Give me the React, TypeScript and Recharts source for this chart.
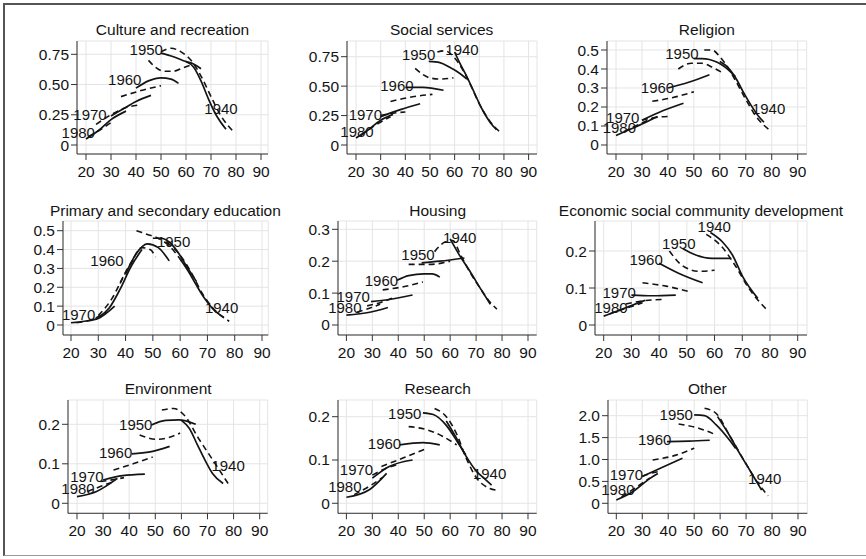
import React from 'react';
import { LineChart, Line, XAxis, YAxis, CartesianGrid, ReferenceDot } from 'recharts';

type Pt = [number, number];

const cohorts = ['1940', '1950', '1960', '1970', '1980'];
const xTicks = [20, 30, 40, 50, 60, 70, 80, 90];

// ---------- Culture and recreation ----------
const cultureTitle = 'Culture and recreation';
const cultureYTicks = ['0', '0.25', '0.50', '0.75'];
const cultureSolid: Pt[][] = [
  [[60, 0.69], [63, 0.645], [66, 0.53], [69, 0.38], [72, 0.25], [76, 0.13]],
  [[50, 0.76], [55, 0.73], [60, 0.69], [63, 0.67], [66, 0.63]],
  [[40, 0.47], [45, 0.53], [50, 0.555], [54, 0.545], [57, 0.51]],
  [[30, 0.24], [35, 0.3], [40, 0.36], [46, 0.41]],
  [[20, 0.05], [25, 0.12], [30, 0.21], [36, 0.28]],
];
const cultureDashed: Pt[][] = [
  [[50, 0.77], [54, 0.8], [58, 0.77], [62, 0.7], [66, 0.57], [70, 0.4], [74, 0.24], [79, 0.11]],
  [[45, 0.7], [48, 0.64], [51, 0.61], [55, 0.61], [59, 0.64], [63, 0.67]],
  [[34, 0.4], [42, 0.45], [50, 0.49]],
  [[24, 0.17], [30, 0.25], [36, 0.31], [41, 0.33]],
  [[21, 0.07], [26, 0.13], [31, 0.2]],
];
const cultureLabels: Pt[] = [[74, 0.3], [44.1, 0.79], [35.5, 0.54], [21.6, 0.25], [16.9, 0.1]];

// ---------- Social services ----------
const socialTitle = 'Social services';
const socialYTicks = ['0', '0.25', '0.50', '0.75'];
const socialSolid: Pt[][] = [
  [[60, 0.79], [62, 0.7], [64.5, 0.6], [67, 0.49], [71, 0.31], [74.5, 0.19], [77, 0.13]],
  [[49.5, 0.71], [54, 0.7], [58, 0.66], [62, 0.61], [65, 0.56]],
  [[40, 0.49], [47, 0.49], [55.5, 0.465]],
  [[30, 0.24], [38, 0.3], [46, 0.35]],
  [[20, 0.06], [25, 0.13], [30, 0.21], [35, 0.26]],
];
const socialDashed: Pt[][] = [
  [[53, 0.79], [56, 0.8], [60, 0.74], [63, 0.65], [66, 0.53], [70, 0.35], [74, 0.21], [79, 0.1]],
  [[44, 0.65], [47, 0.6], [50, 0.57], [54, 0.56], [59.5, 0.57]],
  [[34, 0.37], [43, 0.41], [51, 0.43]],
  [[30, 0.25], [35, 0.27], [40, 0.28]],
  [[22, 0.08], [28, 0.17], [34, 0.24]],
];
const socialLabels: Pt[] = [[63, 0.81], [45.4, 0.77], [36.6, 0.5], [23.8, 0.26], [20.4, 0.11]];

// ---------- Religion ----------
const religionTitle = 'Religion';
const religionYTicks = ['0', '0.1', '0.2', '0.3', '0.4', '0.5'];
const religionSolid: Pt[][] = [
  [[60, 0.44], [63, 0.41], [66, 0.355], [69, 0.28], [72, 0.21], [75, 0.15], [77, 0.12]],
  [[50, 0.455], [53, 0.455], [56, 0.45], [59, 0.435], [62, 0.41], [66, 0.36]],
  [[40, 0.3], [48, 0.33], [56, 0.37]],
  [[30, 0.13], [38, 0.18], [46, 0.22]],
  [[20, 0.05], [25, 0.08], [30, 0.11], [36, 0.15]],
];
const religionDashed: Pt[][] = [
  [[54, 0.5], [57, 0.5], [60, 0.465], [63, 0.41], [66, 0.34], [70, 0.24], [74, 0.15], [79, 0.08]],
  [[44, 0.4], [49, 0.43], [53, 0.43], [57, 0.41], [61, 0.38]],
  [[34, 0.23], [42, 0.25], [50, 0.28]],
  [[30, 0.13], [35, 0.145], [40, 0.15]],
  [[23, 0.07], [29, 0.11], [34, 0.14]],
];
const religionLabels: Pt[] = [[78.8, 0.19], [45.4, 0.48], [36, 0.3], [22.6, 0.145], [21.3, 0.09]];

// ---------- Primary and secondary education ----------
const primaryTitle = 'Primary and secondary education';
const primaryYTicks = ['0', '0.1', '0.2', '0.3', '0.4', '0.5'];
const primarySolid: Pt[][] = [
  [[60, 0.35], [63, 0.285], [66, 0.21], [69, 0.14], [72, 0.085], [76, 0.04]],
  [[50, 0.46], [53, 0.46], [56, 0.44], [59, 0.39], [62, 0.32], [66, 0.23]],
  [[40, 0.27], [44, 0.38], [48, 0.43], [52, 0.41], [56, 0.34]],
  [[30, 0.04], [34, 0.09], [38, 0.19], [42, 0.31], [46, 0.4]],
  [[20, 0.012], [25, 0.02], [30, 0.035], [36, 0.1]],
];
const primaryDashed: Pt[][] = [
  [[55, 0.44], [60, 0.37], [64, 0.28], [68, 0.17], [72, 0.09], [75, 0.05], [78, 0.02]],
  [[44, 0.5], [48, 0.48], [52, 0.46], [56, 0.42], [60, 0.35], [64, 0.27]],
  [[38, 0.22], [42, 0.33], [46, 0.41], [49, 0.4], [51, 0.36]],
  [[30, 0.05], [35, 0.14], [40, 0.28], [43, 0.35]],
  [[22, 0.012], [28, 0.03], [33, 0.07]],
];
const primaryLabels: (Pt | null)[] = [[75.2, 0.09], [57.6, 0.44], [33.2, 0.34], [22.8, 0.057], null];

// ---------- Housing ----------
const housingTitle = 'Housing';
const housingYTicks = ['0', '0.1', '0.2', '0.3'];
const housingSolid: Pt[][] = [
  [[60, 0.27], [63.5, 0.22], [67.5, 0.17], [72, 0.11], [75.5, 0.065]],
  [[49, 0.195], [56, 0.2], [65.5, 0.21]],
  [[39.5, 0.14], [44, 0.155], [50, 0.16], [53, 0.16], [56, 0.15]],
  [[29.5, 0.073], [36.5, 0.08], [45.5, 0.094]],
  [[20, 0.031], [29, 0.04], [36, 0.055]],
];
const housingDashed: Pt[][] = [
  [[54, 0.23], [58, 0.26], [61, 0.265], [64, 0.22], [68, 0.16], [72, 0.11], [75, 0.075], [78, 0.05]],
  [[44, 0.19], [52, 0.19], [60, 0.2]],
  [[34, 0.11], [42, 0.12], [49.5, 0.135]],
  [[28, 0.06], [33, 0.07], [38, 0.085]],
  [[24, 0.04], [28, 0.05], [33, 0.065]],
];
const housingLabels: Pt[] = [[63.7, 0.275], [47.6, 0.22], [33.5, 0.14], [22.6, 0.089], [19.4, 0.054]];

// ---------- Economic social community development ----------
const econTitle = 'Economic social community development';
const econYTicks = ['0', '0.1', '0.2'];
const econSolid: Pt[][] = [
  [[58.5, 0.25], [62.8, 0.225], [66.4, 0.19], [70.2, 0.13], [75.6, 0.072]],
  [[48.5, 0.207], [53, 0.19], [59, 0.18], [66, 0.18]],
  [[40, 0.167], [47, 0.14], [55.7, 0.114]],
  [[30, 0.081], [37.5, 0.079], [46, 0.081]],
  [[20, 0.024], [27, 0.044], [35, 0.067]],
];
const econDashed: Pt[][] = [
  [[57, 0.245], [62.8, 0.21], [67.5, 0.16], [72.3, 0.1], [79, 0.04]],
  [[43.7, 0.2], [48.5, 0.16], [54.5, 0.145], [60, 0.148]],
  [[34, 0.114], [42.5, 0.105], [51, 0.09]],
  [[28, 0.057], [35, 0.066], [41, 0.069]],
  [[22, 0.03], [28, 0.045], [34, 0.06]],
];
const econLabels: Pt[] = [[59.9, 0.267], [47.1, 0.22], [35.3, 0.176], [25.6, 0.087], [22.6, 0.048]];

// ---------- Environment ----------
const envTitle = 'Environment';
const envYTicks = ['0', '0.1', '0.2'];
const envSolid: Pt[][] = [
  [[60, 0.21], [63, 0.19], [66, 0.15], [69, 0.11], [72, 0.075], [76, 0.05]],
  [[48.5, 0.198], [54, 0.21], [59, 0.211], [65.5, 0.2]],
  [[41, 0.125], [48, 0.13], [55.5, 0.144]],
  [[30, 0.059], [37.5, 0.07], [46, 0.074]],
  [[20, 0.017], [27.5, 0.03], [35.5, 0.063]],
];
const envDashed: Pt[][] = [
  [[52.5, 0.236], [57, 0.24], [61.5, 0.22], [66.5, 0.165], [72, 0.11], [78.5, 0.044]],
  [[44, 0.173], [50.5, 0.162], [55.5, 0.167], [59.5, 0.178]],
  [[34, 0.084], [41.5, 0.1], [49, 0.117]],
  [[29, 0.055], [34, 0.06], [38, 0.065]],
  [[24, 0.03], [30, 0.045], [34, 0.055]],
];
const envLabels: Pt[] = [[77.9, 0.095], [42.5, 0.2], [34.8, 0.127], [23.8, 0.068], [20.4, 0.038]];

// ---------- Research ----------
const researchTitle = 'Research';
const researchYTicks = ['0', '0.1', '0.2'];
const researchSolid: Pt[][] = [
  [[58.5, 0.19], [62, 0.155], [66, 0.11], [70, 0.075], [73, 0.058], [76, 0.042]],
  [[49.5, 0.209], [53.5, 0.205], [58.5, 0.18], [63, 0.14], [66, 0.112]],
  [[40.5, 0.135], [49.5, 0.14], [56, 0.135]],
  [[30, 0.058], [36.5, 0.085], [45.5, 0.1]],
  [[20, 0.014], [29, 0.032], [35.5, 0.069]],
];
const researchDashed: Pt[][] = [
  [[54, 0.219], [58.5, 0.2], [62.5, 0.16], [66, 0.107], [70, 0.06], [75, 0.035], [78.5, 0.03]],
  [[44, 0.177], [51, 0.17], [57, 0.155], [62.5, 0.135]],
  [[33.5, 0.085], [42, 0.105], [51, 0.127]],
  [[30, 0.065], [35, 0.08], [40, 0.09]],
  [[23, 0.02], [29, 0.04], [34, 0.06]],
];
const researchLabels: Pt[] = [[75.2, 0.068], [42.5, 0.208], [34.7, 0.137], [23.9, 0.077], [19.4, 0.038]];

// ---------- Other ----------
const otherTitle = 'Other';
const otherYTicks = ['0', '0.5', '1.0', '1.5', '2.0'];
const otherSolid: Pt[][] = [
  [[59, 1.98], [63.5, 1.56], [67.5, 1.14], [71.5, 0.75], [76, 0.3]],
  [[50, 2.02], [54, 2.0], [58.5, 1.79], [63.5, 1.45], [66, 1.25]],
  [[39.5, 1.41], [48, 1.42], [56, 1.44]],
  [[30, 0.61], [38, 0.83], [45.5, 1.03]],
  [[20, 0.075], [26.5, 0.27], [33, 0.57], [36, 0.68]],
];
const otherDashed: Pt[][] = [
  [[54, 2.17], [58.5, 2.05], [63.5, 1.56], [69, 1.0], [74, 0.51], [78.5, 0.17]],
  [[44, 1.81], [52, 1.71], [58.5, 1.56]],
  [[34, 0.99], [43, 1.1], [50, 1.26]],
  [[30, 0.62], [33, 0.68], [36, 0.72]],
  [[22, 0.15], [28, 0.38], [33, 0.58]],
];
const otherLabels: Pt[] = [[77.2, 0.57], [43.1, 2.03], [34.8, 1.46], [23.9, 0.65], [20.6, 0.3]];

// ---------- Layout (pixel geometry of each panel's plot region) ----------
type Layout = {
  left: number; right: number; top: number; bottom: number;
  px20: number; px90: number; y0: number; yRefVal: number; yRefPx: number; titleY: number;
};
const layouts: Layout[] = [
  { left: 77, right: 268, top: 41, bottom: 154, px20: 86, px90: 261, y0: 145, yRefVal: 0.75, yRefPx: 54.3, titleY: 30 },
  { left: 346.7, right: 536.7, top: 41, bottom: 154, px20: 355.7, px90: 528.3, y0: 145, yRefVal: 0.75, yRefPx: 56.7, titleY: 30 },
  { left: 607, right: 806.7, top: 41, bottom: 154, px20: 616, px90: 797.7, y0: 145, yRefVal: 0.5, yRefPx: 50, titleY: 30 },
  { left: 62.7, right: 268, top: 221, bottom: 335, px20: 70.7, px90: 261.7, y0: 325, yRefVal: 0.5, yRefPx: 230.7, titleY: 210.7 },
  { left: 338.3, right: 537, top: 221, bottom: 335, px20: 346.7, px90: 528.3, y0: 325, yRefVal: 0.3, yRefPx: 229.3, titleY: 210.7 },
  { left: 595, right: 807, top: 221, bottom: 335, px20: 603.7, px90: 797.7, y0: 325, yRefVal: 0.2, yRefPx: 251, titleY: 210.7 },
  { left: 68.3, right: 268, top: 400, bottom: 513.3, px20: 77.3, px90: 260, y0: 503.3, yRefVal: 0.2, yRefPx: 424.3, titleY: 389.3 },
  { left: 338.3, right: 537, top: 400, bottom: 513.3, px20: 346.7, px90: 528.3, y0: 503.3, yRefVal: 0.2, yRefPx: 416.7, titleY: 389.3 },
  { left: 607.7, right: 807, top: 400, bottom: 513.3, px20: 616, px90: 797.7, y0: 503.3, yRefVal: 2.0, yRefPx: 415.7, titleY: 389.3 },
];

type PanelData = {
  title: string; yTicks: string[]; solid: Pt[][]; dashed: Pt[][]; labels: (Pt | null)[];
};
const panels: PanelData[] = [
  { title: cultureTitle, yTicks: cultureYTicks, solid: cultureSolid, dashed: cultureDashed, labels: cultureLabels },
  { title: socialTitle, yTicks: socialYTicks, solid: socialSolid, dashed: socialDashed, labels: socialLabels },
  { title: religionTitle, yTicks: religionYTicks, solid: religionSolid, dashed: religionDashed, labels: religionLabels },
  { title: primaryTitle, yTicks: primaryYTicks, solid: primarySolid, dashed: primaryDashed, labels: primaryLabels },
  { title: housingTitle, yTicks: housingYTicks, solid: housingSolid, dashed: housingDashed, labels: housingLabels },
  { title: econTitle, yTicks: econYTicks, solid: econSolid, dashed: econDashed, labels: econLabels },
  { title: envTitle, yTicks: envYTicks, solid: envSolid, dashed: envDashed, labels: envLabels },
  { title: researchTitle, yTicks: researchYTicks, solid: researchSolid, dashed: researchDashed, labels: researchLabels },
  { title: otherTitle, yTicks: otherYTicks, solid: otherSolid, dashed: otherDashed, labels: otherLabels },
];

const FONT = '"Liberation Sans", Arial, Helvetica, sans-serif';
const INK = '#141414';

const toData = (pts: Pt[]) => pts.map(([x, y]) => ({ x, y }));

function Panel({ p, L }: { p: PanelData; L: Layout }) {
  const YW = 60, MT = 14, MR = 14, XH = 36;
  const k = (L.px90 - L.px20) / 70;
  const xlo = 20 - (L.px20 - L.left) / k;
  const xhi = 90 + (L.right - L.px90) / k;
  const u = (L.y0 - L.yRefPx) / L.yRefVal;
  const ylo = -(L.bottom - L.y0) / u;
  const yhi = (L.y0 - L.top) / u;
  const width = YW + (L.right - L.left) + MR;
  const height = MT + (L.bottom - L.top) + XH;
  const yVals = p.yTicks.map(Number);
  const fmt = (v: number) => {
    const i = yVals.findIndex((t) => Math.abs(t - v) < 1e-9);
    return i >= 0 ? p.yTicks[i] : String(v);
  };
  return (
    <>
      <div
        style={{
          position: 'absolute', left: (L.left + L.right) / 2 - 200, width: 400, top: L.titleY - 10,
          height: 20, lineHeight: '20px', textAlign: 'center', fontSize: 15.5, color: INK, whiteSpace: 'nowrap',
        }}
      >
        {p.title}
      </div>
      <div style={{ position: 'absolute', left: L.left - YW, top: L.top - MT }}>
        <LineChart width={width} height={height} margin={{ top: MT, right: MR, bottom: 0, left: 0 }} style={{ overflow: 'visible' }}>
          <CartesianGrid stroke="#e4e4e4" strokeWidth={1} />
          <XAxis
            type="number" dataKey="x" domain={[xlo, xhi]} allowDataOverflow ticks={xTicks} interval={0}
            height={XH} tickSize={6} tickMargin={6} stroke="#333"
            tick={{ fill: INK, fontSize: 15.5, fontFamily: FONT }}
          />
          <YAxis
            type="number" dataKey="y" domain={[ylo, yhi]} allowDataOverflow ticks={yVals} interval={0}
            width={YW} tickSize={6} tickMargin={2} stroke="#333" tickFormatter={fmt}
            tick={{ fill: INK, fontSize: 15.5, fontFamily: FONT }}
          />
          {p.dashed.map((s, i) => (
            <Line
              key={'d' + i} data={toData(s)} dataKey="y" type="monotone" stroke={INK} strokeWidth={1.6}
              strokeDasharray="6 4" dot={false} activeDot={false} isAnimationActive={false}
            />
          ))}
          {p.solid.map((s, i) => (
            <Line
              key={'s' + i} data={toData(s)} dataKey="y" type="monotone" stroke={INK} strokeWidth={1.7}
              dot={false} activeDot={false} isAnimationActive={false}
            />
          ))}
          {p.labels.map((lp, i) =>
            lp ? (
              <ReferenceDot
                key={'l' + i} x={lp[0]} y={lp[1]} r={1} fill="none" stroke="none" ifOverflow="visible"
                label={{ value: cohorts[i], position: 'center', fill: INK, fontSize: 15, fontFamily: FONT }}
              />
            ) : null
          )}
        </LineChart>
      </div>
    </>
  );
}

export default function App() {
  return (
    <div style={{ position: 'absolute', left: 0, top: 0, width: 866, height: 559, background: '#fff', fontFamily: FONT, overflow: 'hidden' }}>
      <div
        style={{
          position: 'absolute', left: 3, top: 3, width: 880, height: 553, boxSizing: 'border-box',
          borderTop: '2px solid #555', borderLeft: '2px solid #555', borderBottom: '1px solid #999',
        }}
      />
      {panels.map((p, i) => (
        <Panel key={i} p={p} L={layouts[i]} />
      ))}
    </div>
  );
}
